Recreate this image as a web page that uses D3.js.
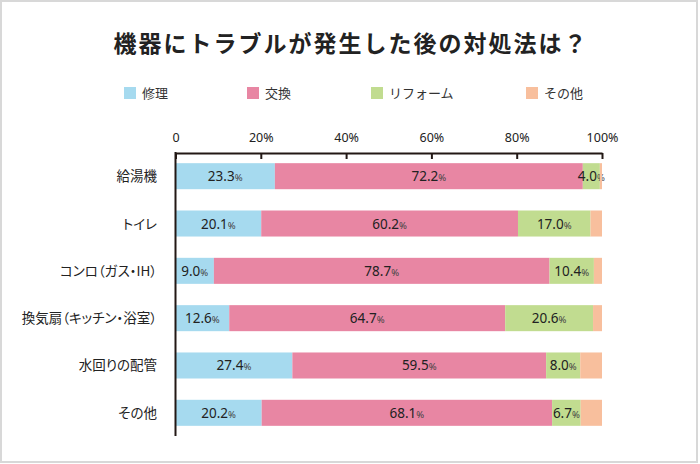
<!DOCTYPE html>
<html><head><meta charset="utf-8">
<script src="https://cdn.jsdelivr.net/npm/d3@7"></script>
<style>
html,body{margin:0;padding:0;background:#fff;}
svg{display:block;font-family:"Noto Sans CJK JP","Noto Sans",sans-serif;}
.cat{font-feature-settings:"palt";}
</style></head>
<body>
<svg id="c" width="700" height="464"></svg>
<script>
const title = "機器にトラブルが発生した後の対処法は？";
const categories = ["給湯機","トイレ","コンロ（ガス・IH）","換気扇（キッチン・浴室）","水回りの配管","その他"];
const seriesNames = ["修理","交換","リフォーム","その他"];
const repair  = [23.3, 20.1, 9.0, 12.6, 27.4, 20.2];
const replace = [72.2, 60.2, 78.7, 64.7, 59.5, 68.1];
const reform  = [4.0, 17.0, 10.4, 20.6, 8.0, 6.7];
const other   = [0.5, 2.7, 1.9, 2.1, 5.1, 5.0];
const tickValues = [0,20,40,60,80,100];
const tickLabels = ["0","20%","40%","60%","80%","100%"];
const colors = ["#a6daef","#e886a3","#c1dc90","#f8bf9d"];

const svg = d3.select("#c");
svg.append("rect").attr("x",1).attr("y",1).attr("width",696).attr("height",461)
  .attr("fill","#fff").attr("stroke","#d8d8d8").attr("stroke-width",2);

svg.append("text").attr("x",351).attr("y",52).attr("text-anchor","middle")
  .attr("font-size",23).attr("font-weight","bold").attr("letter-spacing",2)
  .attr("fill","#222").text(title);

// legend
const legX = [124,247,371,526];
seriesNames.forEach((n,i)=>{
  svg.append("rect").attr("x",legX[i]).attr("y",87).attr("width",12).attr("height",12).attr("fill",colors[i]);
  svg.append("text").attr("x",legX[i]+18).attr("y",98).attr("font-size",13).attr("fill","#333").text(n);
});

const x = d3.scaleLinear().domain([0,100]).range([175.5,602]);
const y = d3.scaleBand().domain(categories).range([153,436]).paddingInner(0.45).paddingOuter(0.215);

const rows = categories.map((c,i)=>({cat:c, vals:[repair[i],replace[i],reform[i],other[i]]}));
const g = svg.append("g");
rows.forEach(r=>{
  let acc = 0;
  r.vals.forEach((v,j)=>{
    const x0 = x(acc), x1 = x(Math.min(acc+v,100));
    g.append("rect").attr("x",x0).attr("y",y(r.cat)).attr("width",Math.max(0,x1-x0))
      .attr("height",y.bandwidth()).attr("fill",colors[j]);
    if(j<3){
      const t = g.append("text").attr("x",(x0+x1)/2).attr("y",y(r.cat)+y.bandwidth()/2+5)
        .attr("text-anchor","middle").attr("font-size",13.5).attr("fill","#222")
        .attr("font-family","'Noto Sans','DejaVu Sans',sans-serif");
      t.append("tspan").text(v.toFixed(1));
      t.append("tspan").attr("font-size",9.5).attr("fill","#444").text("%");
    }
    acc += v;
  });
  // category label
  svg.append("text").attr("class","cat").attr("x",157).attr("y",y(r.cat)+y.bandwidth()/2+5)
    .attr("text-anchor","end").attr("font-size",13.5).attr("fill","#222").text(r.cat);
});

// top axis
const axis = d3.axisTop(x).tickValues(tickValues).tickFormat((d,i)=>tickLabels[i])
  .tickSizeInner(-6).tickSizeOuter(0).tickPadding(11);
const ag = svg.append("g").attr("transform","translate(0,153)").call(axis);
ag.select(".domain").attr("stroke","#231815").attr("stroke-width",2);
ag.selectAll(".tick line").attr("stroke","#231815").attr("stroke-width",2);
ag.selectAll(".tick text").attr("font-size",12.5).attr("fill","#222")
  .attr("font-family","'Noto Sans','DejaVu Sans',sans-serif");

// left axis line
svg.append("line").attr("x1",x(0)).attr("x2",x(0)).attr("y1",152).attr("y2",436)
  .attr("stroke","#231815").attr("stroke-width",2);
</script>
</body></html>
